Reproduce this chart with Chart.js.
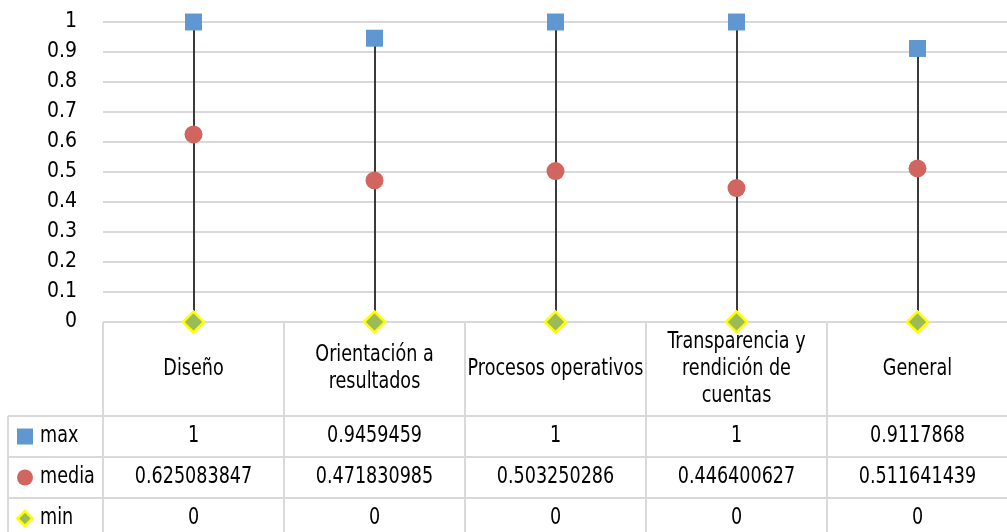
<!DOCTYPE html>
<html lang="es">
  <head>
    <meta charset="UTF-8" />
    <title>max / media / min</title>
    <script src="https://cdn.jsdelivr.net/npm/chart.js"></script>
    <style>
      html, body { margin: 0; padding: 0; background: #fff; overflow: hidden; }
      /* el grafico original sigue unos 14px fuera del borde derecho */
      #wrap { width: 1007px; height: 532px; overflow: hidden; position: relative; }
      #myChart { display: block; position: absolute; left: 0; top: 0; }
    </style>
  </head>
  <body>
    <div id="wrap">
      <canvas id="myChart" width="1021" height="532"></canvas>
    </div>

    <script>
      // datos
      var categorias = [
        "Diseño",
        ["Orientación a", "resultados"],
        "Procesos operativos",
        ["Transparencia y", "rendición de", "cuentas"],
        "General"
      ];
      var valoresMax = [1, 0.9459459, 1, 1, 0.9117868];
      var valoresMedia = [0.625083847, 0.471830985, 0.503250286, 0.446400627, 0.511641439];
      var valoresMin = [0, 0, 0, 0, 0];
      var ticksY = [0, 0.1, 0.2, 0.3, 0.4, 0.5, 0.6, 0.7, 0.8, 0.9, 1];

      var fuente = "'DejaVu Sans Condensed', 'Liberation Sans Narrow', sans-serif";
      var colorLinea = "#d9d9d9";
      var azul = "#5f97d0";
      var rojo = "#d0665f";
      var verde = "#9bbb59";
      var amarillo = "#ffff00";

      // lineas max-min detras de los puntos
      var lineasAltoBajo = {
        id: "lineasAltoBajo",
        beforeDatasetsDraw: function (chart) {
          var ctx = chart.ctx;
          var x = chart.scales.x;
          var y = chart.scales.y;
          ctx.save();
          ctx.strokeStyle = "#3a3a3a";
          ctx.lineWidth = 2;
          for (var i = 0; i < categorias.length; i++) {
            var px = Math.round(x.getPixelForValue(i));
            ctx.beginPath();
            ctx.moveTo(px, y.getPixelForValue(valoresMax[i]));
            ctx.lineTo(px, y.getPixelForValue(valoresMin[i]));
            ctx.stroke();
          }
          ctx.restore();
        }
      };

      function marcador(ctx, tipo, cx, cy) {
        ctx.save();
        if (tipo === "cuadro") {
          ctx.fillStyle = azul;
          ctx.fillRect(cx - 8, cy - 8, 16, 16);
        } else if (tipo === "circulo") {
          ctx.fillStyle = rojo;
          ctx.beginPath();
          ctx.arc(cx, cy, 8, 0, Math.PI * 2);
          ctx.fill();
        } else {
          ctx.fillStyle = verde;
          ctx.strokeStyle = amarillo;
          ctx.lineWidth = 2.5;
          ctx.beginPath();
          ctx.moveTo(cx, cy - 7.5);
          ctx.lineTo(cx + 7.5, cy);
          ctx.lineTo(cx, cy + 7.5);
          ctx.lineTo(cx - 7.5, cy);
          ctx.closePath();
          ctx.fill();
          ctx.stroke();
        }
        ctx.restore();
      }

      // texto estrecho: fuente mas alta comprimida en horizontal
      function texto(ctx, s, x, y, alin) {
        ctx.save();
        ctx.translate(x, y);
        ctx.scale(0.85, 1);
        ctx.textAlign = alin;
        ctx.fillText(s, 0, 0);
        ctx.restore();
      }

      // tabla de datos bajo el grafico
      var tablaDatos = {
        id: "tablaDatos",
        afterDraw: function (chart) {
          var ctx = chart.ctx;
          var area = chart.chartArea;
          var x = chart.scales.x;
          var n = categorias.length;
          var ancho = (area.right - area.left) / n;
          var top = area.bottom;
          var altoCab = 94;
          var altoFila = 41;
          var izq = 8;
          var filas = [
            { nombre: "max", datos: valoresMax, tipo: "cuadro" },
            { nombre: "media", datos: valoresMedia, tipo: "circulo" },
            { nombre: "min", datos: valoresMin, tipo: "diamante" }
          ];

          ctx.save();
          ctx.strokeStyle = colorLinea;
          ctx.lineWidth = 2;

          // horizontales
          var yCab = top + altoCab;
          for (var r = 0; r <= filas.length; r++) {
            var yy = yCab + r * altoFila;
            ctx.beginPath();
            ctx.moveTo(izq, yy);
            ctx.lineTo(area.right, yy);
            ctx.stroke();
          }
          // verticales
          ctx.beginPath();
          ctx.moveTo(izq, yCab);
          ctx.lineTo(izq, chart.height);
          ctx.stroke();
          for (var c = 0; c <= n; c++) {
            var xx = area.left + c * ancho;
            ctx.beginPath();
            ctx.moveTo(xx, top);
            ctx.lineTo(xx, chart.height);
            ctx.stroke();
          }

          ctx.fillStyle = "#000";
          ctx.font = "23px " + fuente;
          ctx.textBaseline = "middle";

          // cabeceras
          for (var i = 0; i < n; i++) {
            var cx = x.getPixelForValue(i);
            var lineas = Array.isArray(categorias[i]) ? categorias[i] : [categorias[i]];
            var cy = top + altoCab / 2 - ((lineas.length - 1) * 27) / 2;
            for (var k = 0; k < lineas.length; k++) {
              texto(ctx, lineas[k], cx, cy + k * 27, "center");
            }
          }

          // filas
          for (var r2 = 0; r2 < filas.length; r2++) {
            var fy = yCab + r2 * altoFila + altoFila / 2;
            marcador(ctx, filas[r2].tipo, 25, fy);
            texto(ctx, filas[r2].nombre, 40, fy, "left");
            for (var j = 0; j < n; j++) {
              texto(ctx, String(filas[r2].datos[j]), x.getPixelForValue(j), fy, "center");
            }
          }
          ctx.restore();
        }
      };

      var ctx = document.getElementById("myChart").getContext("2d");
      new Chart(ctx, {
        type: "line",
        data: {
          labels: categorias,
          datasets: [
            {
              label: "max",
              data: valoresMax,
              showLine: false,
              clip: false,
              pointStyle: "rect",
              pointRadius: 12,
              pointBackgroundColor: azul,
              pointBorderColor: azul,
              pointBorderWidth: 0
            },
            {
              label: "media",
              data: valoresMedia,
              showLine: false,
              clip: false,
              pointStyle: "circle",
              pointRadius: 9,
              pointBackgroundColor: rojo,
              pointBorderColor: rojo,
              pointBorderWidth: 0
            },
            {
              label: "min",
              data: valoresMin,
              showLine: false,
              clip: false,
              pointStyle: "rectRot",
              pointRadius: 10.5,
              pointBackgroundColor: verde,
              pointBorderColor: amarillo,
              pointBorderWidth: 2.5
            }
          ]
        },
        options: {
          responsive: false,
          animation: false,
          layout: { padding: { top: 22, bottom: 210, left: 0, right: 0 } },
          plugins: {
            legend: { display: false },
            tooltip: { enabled: false }
          },
          scales: {
            x: {
              type: "category",
              display: false,
              offset: true
            },
            y: {
              min: 0,
              max: 1,
              afterFit: function (scale) {
                scale.width = 103;
                scale.paddingTop = 0;
                scale.paddingBottom = 0;
              },
              afterBuildTicks: function (scale) {
                scale.ticks = ticksY.map(function (v) { return { value: v }; });
              },
              border: { display: false },
              grid: { color: colorLinea, lineWidth: 2, drawTicks: false },
              ticks: {
                autoSkip: false,
                padding: 26,
                color: "#000",
                font: { family: fuente, size: 21 },
                callback: function (v) { return String(Math.round(v * 10) / 10); }
              }
            }
          }
        },
        plugins: [lineasAltoBajo, tablaDatos]
      });
    </script>
  </body>
</html>
